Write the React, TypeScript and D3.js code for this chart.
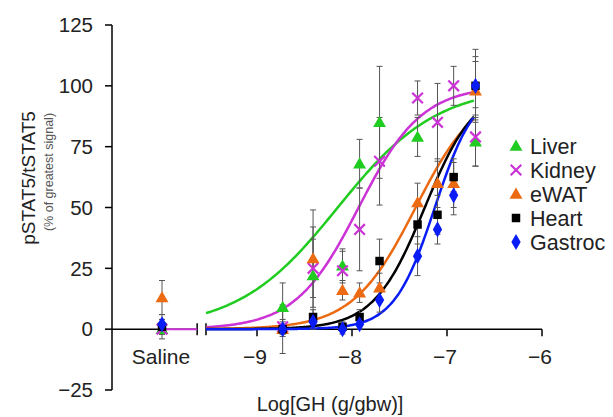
import React from 'react'
import * as d3 from 'd3'

// log10 dose of each group (g/gbw)
const LOG_DOSES = [-8.73, -8.41, -8.1, -7.92, -7.71, -7.31, -7.1, -6.93, -6.7]
const Y_TICKS = [-25, 0, 25, 50, 75, 100, 125]
const X_TICKS = [-9, -8, -7, -6]

const TISSUES = ['Liver', 'Kidney', 'eWAT', 'Heart', 'Gastroc']
const COLORS = ['#1fcc1f', '#cc33d6', '#ec6a12', '#000000', '#0a1cf5']
const SHAPES = ['triangle', 'x', 'triangle', 'square', 'diamond']

// mean values, % of greatest signal (null = not shown)
const LIVER = [9, 22, 26, 68, 85, 79, null, null, 77]
const KIDNEY = [1, 25, 24, 41, 69, 95, 85, 100, 79]
const EWAT = [0, 29, 16, 15, 17, 52, 60, 60, 98]
const HEART = [0, 5, 1, 5, 28, 43, 47, 62.5, 100]
const GASTROC = [0, 3, 0, 2, 12, 30, 41, 55, 100]

const LIVER_ERR = [10, 20, 7, 10, 23, 8, 0, 0, 10]
const KIDNEY_ERR = [3, 12, 8, 17, 18, 7, 16, 8, 12]
const EWAT_ERR = [10, 20, 4, 4, 6, 8, 10, 10, 12]
const HEART_ERR = [3, 3, 2, 3, 9, 8, 8, 6, 15]
const GASTROC_ERR = [2, 3, 2, 2, 5, 8, 6, 8, 12]

const SALINE = [0, 0, 13, 1, 2]
const SALINE_ERR = [2, 4, 7, 3, 4]

// sigmoid fits: EC50 (log) and hill slope, bottom 0, top 100
const EC50 = [-8.15, -7.93, -7.33, -7.234, -7.128]
const HILL = [0.83, 1.3, 1.31, 1.62, 2.02]

const MEANS = [LIVER, KIDNEY, EWAT, HEART, GASTROC]
const ERRS = [LIVER_ERR, KIDNEY_ERR, EWAT_ERR, HEART_ERR, GASTROC_ERR]

const W = 613
const H = 417
const FONT = '"Liberation Sans", Arial, sans-serif'
const SALINE_POS = -10
const BREAK_L = -9.63
const BREAK_R = -9.537
const FIT_END = -6.7

function Marker({ shape, color, x, y }: { shape: string; color: string; x: number; y: number }) {
  if (shape === 'x') {
    const p = d3.symbol(d3.symbolTimes, 75)()
    return <path d={p || ''} transform={`translate(${x},${y})`} fill="none" stroke={color} strokeWidth={2.2} />
  }
  const type = shape === 'triangle' ? d3.symbolTriangle : shape === 'square' ? d3.symbolSquare : d3.symbolDiamond
  const size = shape === 'triangle' ? 72 : shape === 'square' ? 72 : 75
  const p = d3.symbol(type, size)()
  const dy = shape === 'triangle' ? 1 : 0
  return <path d={p || ''} transform={`translate(${x},${y + dy})`} fill={color} />
}

export default function App() {
  const x = d3.scaleLinear().domain([-9, -6]).range([257, 542])
  const y = d3.scaleLinear().domain([-25, 125]).range([390, 25])
  const y0 = y(0)

  const fitLine = (i: number) => {
    const xs = d3.range(BREAK_R, FIT_END + 0.001, 0.02)
    return d3
      .line<number>()
      .x((v) => x(v))
      .y((v) => y(100 / (1 + Math.pow(10, (EC50[i] - v) * HILL[i]))))
      .curve(d3.curveMonotoneX)(xs)
  }

  const errBar = (cx: number, m: number, e: number, key: string) => {
    if (!e) return null
    return (
      <g key={key} stroke="#555" strokeWidth={1}>
        <line x1={cx} x2={cx} y1={y(m + e)} y2={y(m - e)} />
        <line x1={cx - 3} x2={cx + 3} y1={y(m + e)} y2={y(m + e)} />
        <line x1={cx - 3} x2={cx + 3} y1={y(m - e)} y2={y(m - e)} />
      </g>
    )
  }

  return (
    <svg width={W} height={H} style={{ position: 'absolute', left: 0, top: 0, background: '#fff' }} fontFamily={FONT}>
      {/* y axis */}
      <line x1={112} x2={112} y1={y(125)} y2={y(-25)} stroke="#000" strokeWidth={1.5} />
      {Y_TICKS.map((t) => (
        <g key={t}>
          <line x1={105} x2={112} y1={y(t)} y2={y(t)} stroke="#000" strokeWidth={1.5} />
          <text x={93} y={y(t)} dy="0.35em" textAnchor="end" fontSize={20.5} fill="#222">
            {d3.format('d')(t)}
          </text>
        </g>
      ))}

      {/* x axis with break */}
      <line x1={112} x2={x(BREAK_L)} y1={y0} y2={y0} stroke="#000" strokeWidth={1.5} />
      <line x1={x(BREAK_R)} x2={x(-6)} y1={y0} y2={y0} stroke="#000" strokeWidth={1.5} />
      {[BREAK_L, BREAK_R].map((b) => (
        <line key={b} x1={x(b)} x2={x(b)} y1={y0 - 6} y2={y0 + 6} stroke="#000" strokeWidth={1.5} />
      ))}
      {X_TICKS.map((t) => (
        <g key={t}>
          <line x1={x(t)} x2={x(t)} y1={y0} y2={y0 + 7} stroke="#000" strokeWidth={1.5} />
          <text x={x(t) - 2} y={364} textAnchor="middle" fontSize={21} fill="#222">
            {d3.format('d')(t)}
          </text>
        </g>
      ))}
      <text x={x(SALINE_POS) - 1} y={364} textAnchor="middle" fontSize={21} fill="#222">
        Saline
      </text>
      <text x={330} y={411} textAnchor="middle" fontSize={20} fill="#222">
        Log[GH (g/gbw)]
      </text>

      {/* y label */}
      <text transform="translate(35,178) rotate(-90)" textAnchor="middle" fontSize={19} fill="#222">
        pSTAT5/tSTAT5
      </text>
      <text transform="translate(53,172) rotate(-90)" textAnchor="middle" fontSize={12.5} fill="#555">
        (% of greatest signal)
      </text>

      {/* saline baseline */}
      <line x1={x(SALINE_POS)} x2={x(BREAK_L)} y1={y0} y2={y0} stroke={COLORS[1]} strokeWidth={2} />

      {/* fitted curves */}
      {TISSUES.map((t, i) => (
        <path key={t} d={fitLine(i) || ''} fill="none" stroke={COLORS[i]} strokeWidth={2.5} />
      ))}

      {/* error bars */}
      {TISSUES.map((t, i) => (
        <g key={t}>
          {errBar(x(SALINE_POS), SALINE[i], SALINE_ERR[i], 's')}
          {MEANS[i].map((m, j) => (m == null ? null : errBar(x(LOG_DOSES[j]), m, ERRS[i][j], `e${j}`)))}
        </g>
      ))}

      {/* points */}
      {TISSUES.map((t, i) => (
        <g key={t}>
          <Marker shape={SHAPES[i]} color={COLORS[i]} x={x(SALINE_POS)} y={y(SALINE[i])} />
          {MEANS[i].map((m, j) =>
            m == null ? null : <Marker key={j} shape={SHAPES[i]} color={COLORS[i]} x={x(LOG_DOSES[j])} y={y(m)} />
          )}
        </g>
      ))}

      {/* legend */}
      {TISSUES.map((t, i) => (
        <g key={t} transform={`translate(0,${146 + i * 24})`}>
          <Marker shape={SHAPES[i]} color={COLORS[i]} x={516} y={0} />
          <text x={530} y={0} dy="0.35em" fontSize={21.5} fill="#222">
            {t}
          </text>
        </g>
      ))}
    </svg>
  )
}
